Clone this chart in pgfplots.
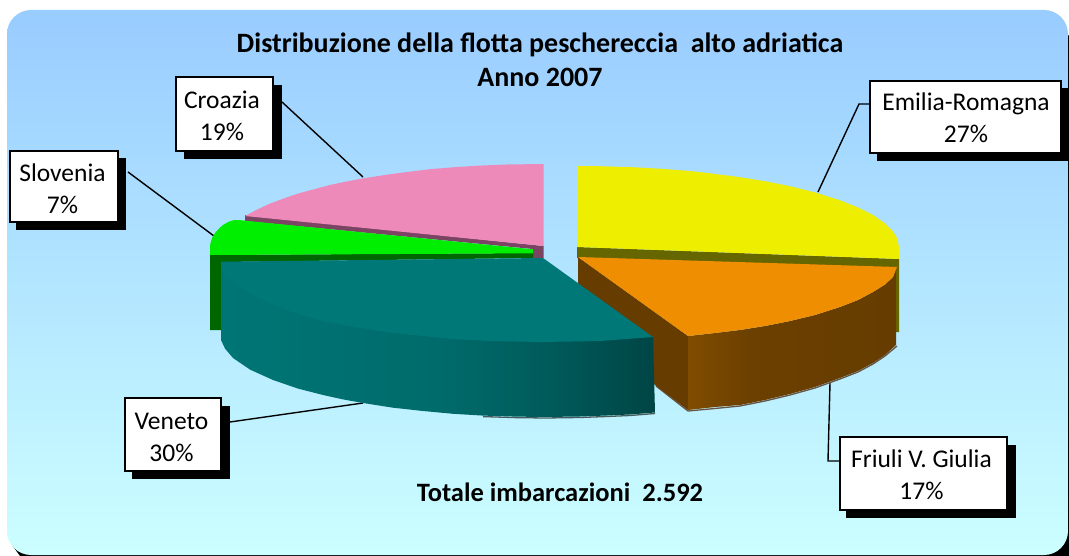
\documentclass[border=0pt]{standalone}
\usepackage{pgfplots}
\pgfplotsset{compat=1.18}
\usepackage{fontspec}
\setmainfont{Carlito}
\definecolor{cYel}{RGB}{238,238,0}
\definecolor{cOli}{RGB}{102,102,0}
\definecolor{cOra}{RGB}{238,142,0}
\definecolor{cBro}{RGB}{102,60,0}
\definecolor{cTea}{RGB}{0,120,120}
\definecolor{cGre}{RGB}{0,238,0}
\definecolor{cGrD}{RGB}{0,102,0}
\definecolor{cPin}{RGB}{238,138,186}
\definecolor{cPiD}{RGB}{122,68,98}
\pgfdeclareverticalshading{bgsh}{100bp}{rgb(0bp)=(0.8,1,1); rgb(25bp)=(0.8,1,1); rgb(75bp)=(0.6,0.8,1); rgb(100bp)=(0.6,0.8,1)}
\pgfdeclarehorizontalshading{teash}{100bp}{rgb(0bp)=(0,0.46,0.46); rgb(25bp)=(0,0.46,0.46); rgb(50bp)=(0,0.42,0.42); rgb(62bp)=(0,0.36,0.36); rgb(75bp)=(0,0.27,0.27); rgb(100bp)=(0,0.27,0.27)}
\pgfdeclarehorizontalshading{brosh}{100bp}{rgb(0bp)=(0.5,0.3,0); rgb(25bp)=(0.5,0.3,0); rgb(40bp)=(0.42,0.25,0); rgb(75bp)=(0.4,0.235,0); rgb(100bp)=(0.4,0.235,0)}
\begin{document}
\begin{tikzpicture}
\begin{axis}[scale only axis,width=1069pt,height=556pt,xmin=0,xmax=1069,ymin=0,ymax=556,y dir=reverse,hide axis,clip=true]
% page extent
\addplot[draw=none,forget plot] coordinates {(0,0)(1069,556)};
% frame
\addplot[fill=black,draw=none,forget plot] coordinates {(1055,22)(1069,36)(1069,556)(20,556)(12,545)} -- cycle;
\addplot[draw=none,shading=bgsh,rounded corners=24pt,forget plot] coordinates {(7,10)(1068,10)(1068,555)(7,555)} -- cycle;
% leader lines
\addplot[black,line width=1.4pt,forget plot] coordinates {(282,102)(363,177)};
\addplot[black,line width=1.4pt,forget plot] coordinates {(128,172)(214,236)};
\addplot[black,line width=1.4pt,forget plot] coordinates {(870,104)(859,104)(818,192)};
\addplot[black,line width=1.4pt,forget plot] coordinates {(230,422)(363,403)};
\addplot[black,line width=1.4pt,forget plot] coordinates {(830,383)(828,461)(840,461)};
% Croazia 19%: top and cut face
\addplot[fill=cPiD,draw=none,forget plot] coordinates {(245,215)(245,221)(533,249)(533,258)(543.5,258)(543.5,246)} -- cycle;
\addplot[fill=cPin,draw=none,forget plot] coordinates {(543.5,164)(507,164.5)(480,165.6)(457,167)(432,169)(407,172)(385,175)(363,178.4)(345,181.8)(330,185)(300,193)(285,198)(270,203.6)(257,209.6)(245,216)(543.5,246)} -- cycle;
% Slovenia 7%
\addplot[fill=cGrD,draw=none,forget plot] coordinates {(210,255)(210,330)(222,330)(222,262)(533,258)(533,253)} -- cycle;
\addplot[fill=cGre,draw=none,forget plot] coordinates {(210,255)(210,245)(212,238)(215,233)(219,228.5)(223,225)(228,222)(233,220.3)(238,220)(245,220.7)(533,249.3)(533,253.3)} -- cycle;
% Emilia-Romagna 27%
\addplot[fill=cOli,draw=none,forget plot] coordinates {(577,247)(899,259)(899,332)(896,332)(896,268)(577,258)} -- cycle;
\addplot[fill=cYel,draw=none,forget plot] coordinates {(577,166)(600,166.2)(633,167.2)(660,168.7)(690,171)(715,173.9)(740,177.2)(765,181.2)(790,186.2)(815,192.4)(840,200.3)(858,207.5)(873,215)(885,223.4)(893,231.4)(897,238)(899,247)(899,259)(577,247)} -- cycle;
% Friuli V. Giulia 17%
\addplot[draw={rgb:red,0.85;green,0.72;blue,0.6},line width=1.3pt,forget plot] coordinates {(656,386)(688,411)(715,408.5)(740,406)(765,401)(790,395)(815,388)(840,379)(858,372)(873,364)(885,356)(897,346)};
\addplot[fill=cBro,draw=none,forget plot] coordinates {(578,257)(578,290)(655,385)(688,410)(688,336)} -- cycle;
\addplot[draw=none,shading=brosh,forget plot] coordinates {(688,336)(715,333)(740,330)(765,326)(790,321)(815,315)(840,307)(858,300)(873,292)(885,284.5)(893,277)(896,268)(896,345)(885,355)(873,363)(858,371)(840,378)(815,387)(790,394)(765,400)(740,405)(715,407)(688,410)} -- cycle;
\addplot[fill=cOra,draw=none,forget plot] coordinates {(578,257)(897,267)(893,277)(885,284.5)(873,292)(858,300)(840,307)(815,315)(790,321)(765,326)(740,330)(715,333)(688,336)} -- cycle;
% Veneto 30%
\addplot[draw={rgb:red,0.55;green,0.72;blue,0.72},line width=1.3pt,forget plot] coordinates {(483,416.6)(515,417.6)(545,418)(580,417.5)(607,416.5)(630,415.5)(655,413.5)};
\addplot[draw=none,shading=teash,forget plot] coordinates {(221,262)(221,340)(225,348.6)(233,358)(250,369.6)(273,380)(298,388.6)(323,395)(343,399.4)(363,403)(393,407.7)(423,411)(453,413.8)(483,415.6)(515,416.6)(545,417)(580,416.5)(607,415.5)(630,414.5)(655,412.5)(653,337)(540,300)} -- cycle;
\addplot[fill=cTea,draw=none,forget plot] coordinates {(221,261.7)(543,258)(653,337)(600,341)(540,342)(490,341)(453,339)(423,336)(393,333)(373,330)(343,325)(323,321)(298,314)(273,305)(250,294)(233,283)(225,275)(221,267)} -- cycle;
% boxes
\addplot[fill=black,draw=none,forget plot] coordinates {(184,85)(282,85)(282,159)(184,159)} -- cycle;
\addplot[fill=white,draw=black,line width=1.4pt,forget plot] coordinates {(176,77)(273,77)(273,151)(176,151)} -- cycle;
\addplot[fill=black,draw=none,forget plot] coordinates {(16,158)(126,158)(126,230)(16,230)} -- cycle;
\addplot[fill=white,draw=black,line width=1.4pt,forget plot] coordinates {(10,151)(118,151)(118,222)(10,222)} -- cycle;
\addplot[fill=black,draw=none,forget plot] coordinates {(877,88)(1068,88)(1068,161)(877,161)} -- cycle;
\addplot[fill=white,draw=black,line width=1.4pt,forget plot] coordinates {(870,81)(1061,81)(1061,153)(870,153)} -- cycle;
\addplot[fill=black,draw=none,forget plot] coordinates {(132,406)(230,406)(230,479)(132,479)} -- cycle;
\addplot[fill=white,draw=black,line width=1.4pt,forget plot] coordinates {(125,398)(221,398)(221,471)(125,471)} -- cycle;
\addplot[fill=black,draw=none,forget plot] coordinates {(846,445)(1016,445)(1016,518)(846,518)} -- cycle;
\addplot[fill=white,draw=black,line width=1.4pt,forget plot] coordinates {(840,437)(1007,437)(1007,510)(840,510)} -- cycle;
% text
\node[font=\fontsize{25.5}{31}\selectfont,align=center] at (axis cs:222,115.5) {Croazia\\[1pt]19\%};
\node[font=\fontsize{25.5}{31}\selectfont,align=center] at (axis cs:62.5,189) {Slovenia\\[1pt]7\%};
\node[font=\fontsize{25.5}{31}\selectfont,align=center] at (axis cs:966,118) {Emilia-Romagna\\[1pt]27\%};
\node[font=\fontsize{25.5}{31}\selectfont,align=center] at (axis cs:171.5,437) {Veneto\\[1pt]30\%};
\node[font=\fontsize{25.5}{31}\selectfont,align=center] at (axis cs:921.5,475) {Friuli V. Giulia\\[1pt]17\%};
\node[font=\fontsize{28}{34}\selectfont\bfseries,align=center] at (axis cs:540,60) {Distribuzione della flotta pescherec\-cia\ \ alto adriatica\\Anno 2007};
\node[font=\fontsize{26.5}{31}\selectfont\bfseries] at (axis cs:560,492) {Totale imbarcazioni\ \ 2.592};
\end{axis}
\end{tikzpicture}
\end{document}
